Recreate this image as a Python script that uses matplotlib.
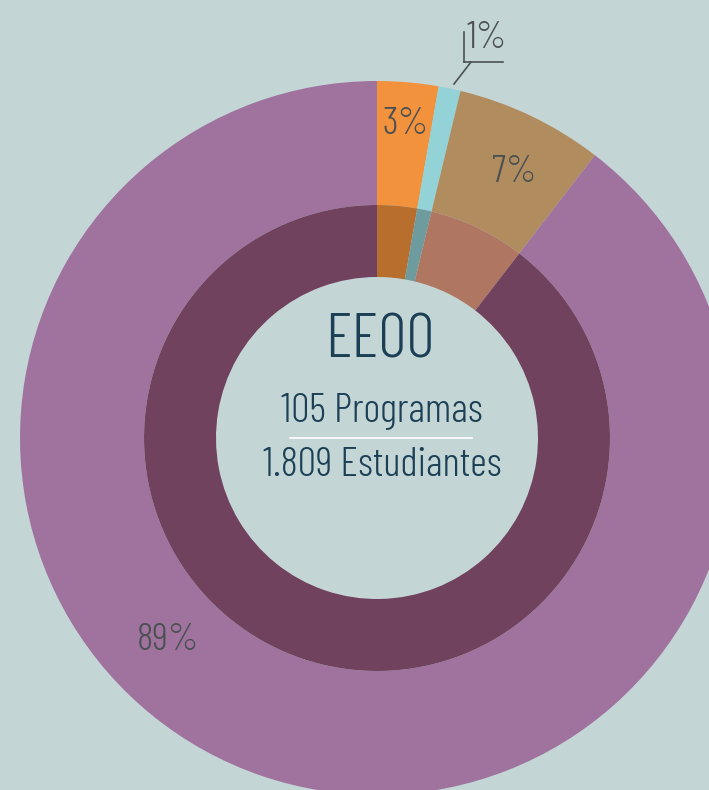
import matplotlib
matplotlib.use("Agg")
import matplotlib.pyplot as plt

# Data (student counts per group, total 1.809)
categories = ["Grupo A", "Grupo B", "Grupo C", "Otros"]
values = [50, 18, 121, 1620]
pct_labels = ["3%", "1%", "7%", "89%"]
outer_colors = ["#F2923D", "#93D2D6", "#B08C5F", "#9F739E"]
inner_colors = ["#B86E2C", "#6E9B9E", "#AF7762", "#70425E"]
title = "EEOO"
line1 = "105 Programas"
line2 = "1.809 Estudiantes"

bg = "#C4D5D6"
plt.rcParams['font.family'] = ["Barlow Condensed", "DejaVu Sans"]
plt.rcParams['font.weight'] = 300

W, H = 709, 790
fig = plt.figure(figsize=(W / 100, H / 100), dpi=100, facecolor=bg)
ax = fig.add_axes([0, 0, 1, 1])
ax.set_facecolor(bg)

cx, cy = 377, H - 438
R_out, R_mid, R_in = 357, 233, 161

ax.pie(values, colors=outer_colors, radius=R_out, center=(cx, cy),
       startangle=90, counterclock=False,
       wedgeprops=dict(width=R_out - R_mid, linewidth=0), frame=True)
ax.pie(values, colors=inner_colors, radius=R_mid, center=(cx, cy),
       startangle=90, counterclock=False,
       wedgeprops=dict(width=R_mid - R_in, linewidth=0), frame=True)
ax.set_xlim(0, W)
ax.set_ylim(0, H)
ax.set_aspect('equal')
ax.axis('off')

lab_col = "#4B5053"
fs_lab = 28
ax.text(406, H - 124, pct_labels[0], ha='center', va='center', fontsize=fs_lab, color=lab_col)
ax.text(514, H - 172, pct_labels[2], ha='center', va='center', fontsize=fs_lab, color=lab_col)
ax.text(168, H - 640, pct_labels[3], ha='center', va='center', fontsize=fs_lab, color=lab_col)
ax.text(487, H - 39, pct_labels[1], ha='center', va='center', fontsize=fs_lab, color=lab_col)
# leader for 1%
ax.plot([454, 471], [H - 84, H - 62], color=lab_col, lw=1.2)
ax.plot([464, 503], [H - 62, H - 62], color=lab_col, lw=1.2)
ax.plot([464, 464], [H - 62, H - 32], color=lab_col, lw=1.2)

navy = "#1B3F55"
tx = 380
ax.text(tx, H - 342, title, ha='center', va='center', fontsize=45, color=navy)
ax.text(tx + 2, H - 411, line1, ha='center', va='center', fontsize=29.5, color=navy)
ax.plot([290, 472], [H - 438, H - 438], color="white", lw=1.2)
ax.text(tx + 2, H - 466, line2, ha='center', va='center', fontsize=29.5, color=navy)

fig.savefig("out.png", dpi=100, facecolor=bg)
